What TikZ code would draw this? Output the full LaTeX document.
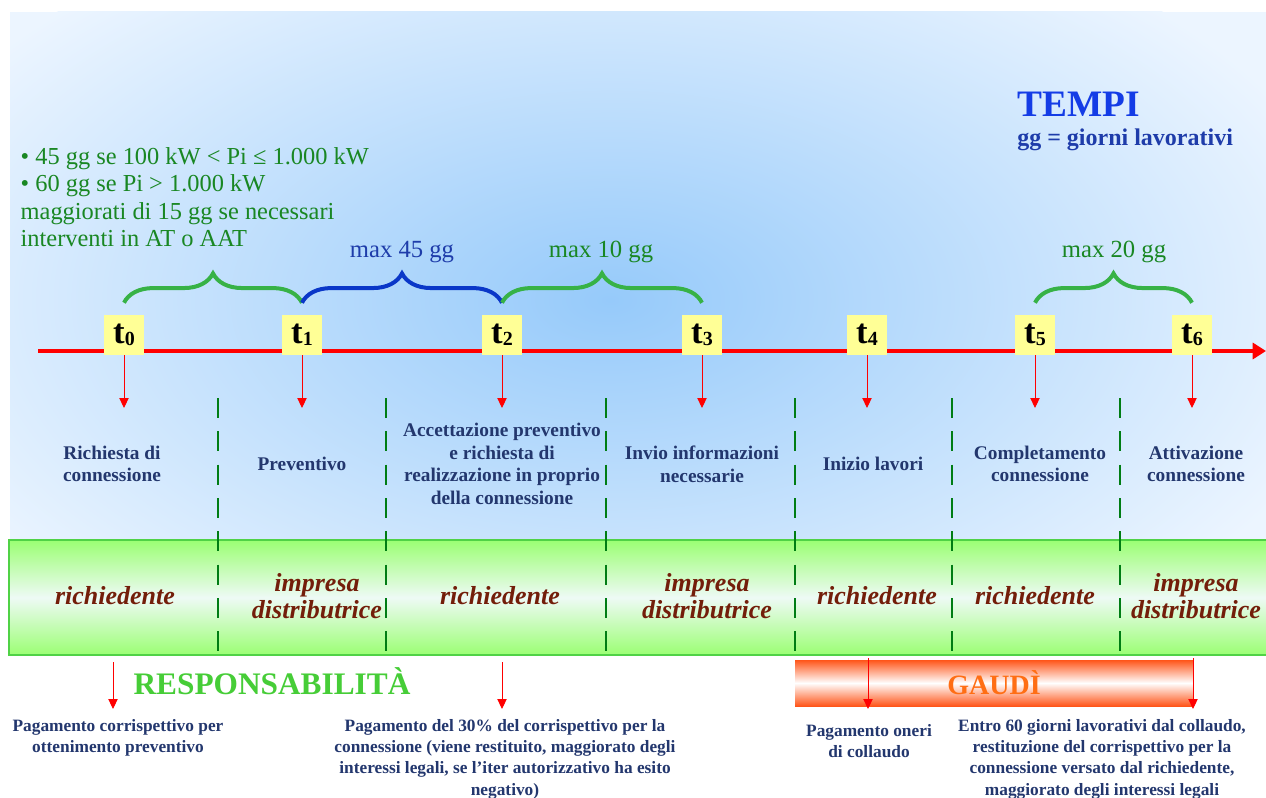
\documentclass[tikz,border=0pt]{standalone}
\usepackage{fontspec}
\setmainfont{Liberation Serif}
\usetikzlibrary{arrows.meta,positioning,decorations.pathreplacing}
\definecolor{bgMid}{RGB}{150,202,250}
\definecolor{bgEdge}{RGB}{236,245,255}
\definecolor{tlRed}{RGB}{255,0,0}
\definecolor{tYellow}{RGB}{255,255,150}
\definecolor{brGreen}{RGB}{55,178,70}
\definecolor{brBlue}{RGB}{10,55,200}
\definecolor{txGreen}{RGB}{25,135,35}
\definecolor{txBlue}{RGB}{30,60,170}
\definecolor{tmBlue}{RGB}{20,60,230}
\definecolor{dsNavy}{RGB}{35,55,110}
\definecolor{bdGreen}{RGB}{155,255,115}
\definecolor{bdLight}{RGB}{238,250,245}
\definecolor{bdEdge}{RGB}{80,210,70}
\definecolor{dvGreen}{RGB}{0,125,20}
\definecolor{roleRed}{RGB}{115,30,10}
\definecolor{respGreen}{RGB}{70,205,55}
\definecolor{gdOrange}{RGB}{255,85,25}
\definecolor{gdText}{RGB}{255,110,20}
\newcommand{\tsub}[1]{\raisebox{-1.5pt}{\fontsize{15}{15}\selectfont #1}}

\begin{document}
\begin{tikzpicture}[x=0.75pt,y=-0.75pt,
    tbox/.style={fill=tYellow,minimum width=30pt,minimum height=30pt,inner sep=0pt,
                 font=\fontsize{26}{26}\selectfont\bfseries},
    tline/.style={line width=3.5pt,tlRed,-{Triangle[length=10pt,width=12pt]}},
    tarr/.style={tlRed,line width=0.7pt,-{Triangle[length=7.5pt,width=7pt]}},
    gbrace/.style={decorate,decoration={brace,amplitude=22pt},line width=3pt,brGreen},
    bbrace/.style={gbrace,brBlue},
    maxlbl/.style={font=\fontsize{18.5}{18.5}\selectfont},
    desc/.style={align=center,text=dsNavy,font=\fontsize{14.5}{17}\selectfont\bfseries},
    role/.style={align=center,text=roleRed,font=\fontsize{19.5}{20}\selectfont\bfseries\itshape},
    divline/.style={dvGreen,line width=2.2pt,dash pattern=on 15pt off 10pt},
    note/.style={align=center,text=dsNavy,font=\fontsize{13}{16}\selectfont\bfseries}]
  \useasboundingbox (0,0) rectangle (1266,798);
  \fill[white] (0,0) rectangle (1266,798);
  \begin{scope}
    \clip (10,12) rectangle (1266,540);
    \fill[bgEdge] (10,12) rectangle (1266,540);
    \shade[inner color=bgMid,outer color=bgEdge] (610,300) ellipse [x radius=760,y radius=420];
  \end{scope}

  \node[anchor=north west,align=left,text=txGreen,font=\fontsize{18.3}{20.5}\selectfont] (cond) at (16,143)
    {• 45 gg se 100 kW < Pi ≤ 1.000 kW\\• 60 gg se Pi > 1.000 kW\\maggiorati di 15 gg se necessari\\interventi in AT o AAT};
  \node[anchor=base west,text=tmBlue,font=\fontsize{28}{28}\selectfont\bfseries,inner sep=0pt] (tempi) at (1017,117) {TEMPI};
  \node[anchor=base west,text=txBlue,font=\fontsize{18}{18}\selectfont\bfseries,inner sep=0pt] (ggdef) at (1017,146) {gg = giorni lavorativi};

  \coordinate (tlA) at (38,351);
  \coordinate (tlB) at (1266,351);
  \draw[tline] (tlA) -- (tlB);

  \foreach \i/\x in {0/124,1/302,2/502,3/702,4/867,5/1035,6/1192} {
    \node[tbox] (t\i) at (\x,335) {t\tsub{\i}};
    \coordinate (d\i) at (\x,408);
    \draw[tarr] (t\i) -- (d\i);
  }

  \draw[gbrace] ([yshift=9pt]t0.north) -- ([yshift=9pt]t1.north);
  \draw[bbrace] ([yshift=9pt]t1.north) -- ([yshift=9pt]t2.north);
  \draw[gbrace] ([yshift=9pt]t2.north) -- ([yshift=9pt]t3.north);
  \draw[gbrace] ([yshift=9pt]t5.north) -- ([yshift=9pt]t6.north);
  \node[maxlbl,text=txBlue] (max45) at (402,252) {max 45 gg};
  \node[maxlbl,text=txGreen] (max10) at (601,252) {max 10 gg};
  \node[maxlbl,text=txGreen] (max20) at (1114,252) {max 20 gg};

  \node[desc] (s0) at (112,464) {Richiesta di\\connessione};
  \node[desc] (s1) at (302,464) {Preventivo};
  \node[desc] (s2) at (502,464) {Accettazione preventivo\\e richiesta di\\realizzazione in proprio\\della connessione};
  \node[desc] (s3) at (702,464) {Invio informazioni\\necessarie};
  \node[desc] (s4) at (873,464) {Inizio lavori};
  \node[desc] (s5) at (1040,464) {Completamento\\connessione};
  \node[desc] (s6) at (1196,464) {Attivazione\\connessione};

  \shade[top color=bdGreen,bottom color=bdGreen,middle color=bdLight] (9,540) rectangle (1268,655);
  \draw[bdEdge,line width=1.8pt] (9,540) rectangle (1268,655);
  \foreach \x in {218,386,606,795,952,1120}
    \draw[divline] (\x,398) -- (\x,655);

  \node[role] (r0) at (115,596) {richiedente};
  \node[role] (r1) at (317,596) {impresa\\distributrice};
  \node[role] (r2) at (500,596) {richiedente};
  \node[role] (r3) at (707,596) {impresa\\distributrice};
  \node[role] (r4) at (877,596) {richiedente};
  \node[role] (r5) at (1035,596) {richiedente};
  \node[role] (r6) at (1196,596) {impresa\\distributrice};

  \node[text=respGreen,font=\fontsize{23.5}{23.5}\selectfont\bfseries] (resp) at (272,681) {RESPONSABILITÀ};
  \node[top color=gdOrange,bottom color=gdOrange,middle color=white,minimum width=298.5pt,minimum height=34.5pt,
        inner sep=0pt,text=gdText,font=\fontsize{21}{21}\selectfont\bfseries] (gaudi) at (994,683) {GAUDÌ};

  \node[note] (p0) at (118,738) {Pagamento corrispettivo per\\ottenimento preventivo};
  \node[note] (p1) at (505,759) {Pagamento del 30\% del corrispettivo per la\\connessione (viene restituito, maggiorato degli\\interessi legali, se l’iter autorizzativo ha esito\\negativo)};
  \node[note] (p2) at (869,741) {Pagamento oneri\\di collaudo};
  \node[note] (p3) at (1102,759) {Entro 60 giorni lavorativi dal collaudo,\\restituzione del corrispettivo per la\\connessione versato dal richiedente,\\maggiorato degli interessi legali};

  \foreach \n/\x/\y in {0/113/662,1/502/662,2/868/658,3/1193/658} {
    \coordinate (u\n) at (\x,\y);
    \coordinate (v\n) at (\x,709);
    \draw[tarr] (u\n) -- (v\n);
  }
\end{tikzpicture}
\end{document}
